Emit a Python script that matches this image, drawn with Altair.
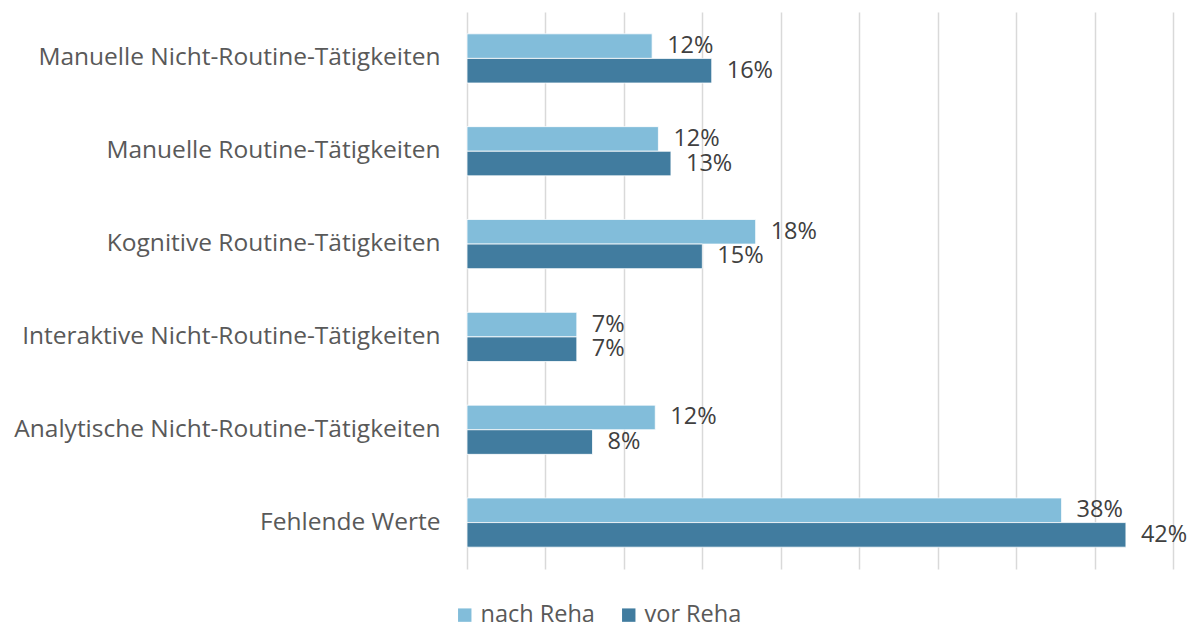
import altair as alt
import pandas as pd

categories = [
    "Manuelle Nicht-Routine-Tätigkeiten",
    "Manuelle Routine-Tätigkeiten",
    "Kognitive Routine-Tätigkeiten",
    "Interaktive Nicht-Routine-Tätigkeiten",
    "Analytische Nicht-Routine-Tätigkeiten",
    "Fehlende Werte",
]
series = ["nach Reha", "vor Reha"]
nach_reha = [11.8, 12.2, 18.4, 7.0, 12.0, 37.9]
vor_reha = [15.6, 13.0, 15.0, 7.0, 8.0, 42.0]
nach_labels = ["12%", "12%", "18%", "7%", "12%", "38%"]
vor_labels = ["16%", "13%", "15%", "7%", "8%", "42%"]
colors = ["#82BDDA", "#417C9F"]

rows = []
for i, c in enumerate(categories):
    rows.append({"Kategorie": c, "Serie": series[0], "Wert": nach_reha[i], "Label": nach_labels[i]})
    rows.append({"Kategorie": c, "Serie": series[1], "Wert": vor_reha[i], "Label": vor_labels[i]})
df = pd.DataFrame(rows)

FONT = "Open Sans"
FS = 23.5

y_enc = alt.Y(
    "Kategorie:N",
    sort=categories,
    title=None,
    scale=alt.Scale(paddingInner=0.47, paddingOuter=0.235),
    axis=alt.Axis(
        domain=False, ticks=False, labelPadding=27, labelFontSize=24.5,
        labelColor="#595959", labelFont=FONT, labelLimit=600,
    ),
)
yoff = alt.YOffset("Serie:N", sort=series, scale=alt.Scale(paddingInner=0, paddingOuter=0))
x_enc = alt.X(
    "Wert:Q",
    title=None,
    scale=alt.Scale(domain=[0, 45], nice=False),
    axis=alt.Axis(
        values=[0, 5, 10, 15, 20, 25, 30, 35, 40, 45],
        labels=False, ticks=False, domain=False,
        grid=True, gridColor="#D9D9D9", gridWidth=1.5,
    ),
)

bars = alt.Chart(df).mark_bar(stroke="white", strokeWidth=0.8).encode(
    y=y_enc,
    yOffset=yoff,
    x=x_enc,
    color=alt.Color(
        "Serie:N",
        sort=series,
        scale=alt.Scale(domain=series, range=colors),
        legend=alt.Legend(
            title=None, orient="none", direction="horizontal",
            legendX=-14, legendY=591, symbolType="square", symbolSize=180,
            symbolStrokeWidth=0, labelFontSize=FS, labelColor="#595959",
            labelFont=FONT, columnPadding=22, labelOffset=4,
        ),
    ),
)

text = alt.Chart(df).mark_text(
    align="left", baseline="middle", dx=15, fontSize=FS, color="#404040", font=FONT
).encode(
    y=alt.Y("Kategorie:N", sort=categories),
    yOffset=yoff,
    x=alt.X("Wert:Q"),
    text="Label:N",
)

chart = alt.layer(bars, text).properties(
    width=706,
    height=557,
    background="white",
    autosize=alt.AutoSizeParams(type="none"),
    padding={"left": 459, "top": 4, "right": 14, "bottom": 58},
).configure_view(stroke=None)

chart.save("out.html", embed_options={"renderer": "svg", "actions": False})
